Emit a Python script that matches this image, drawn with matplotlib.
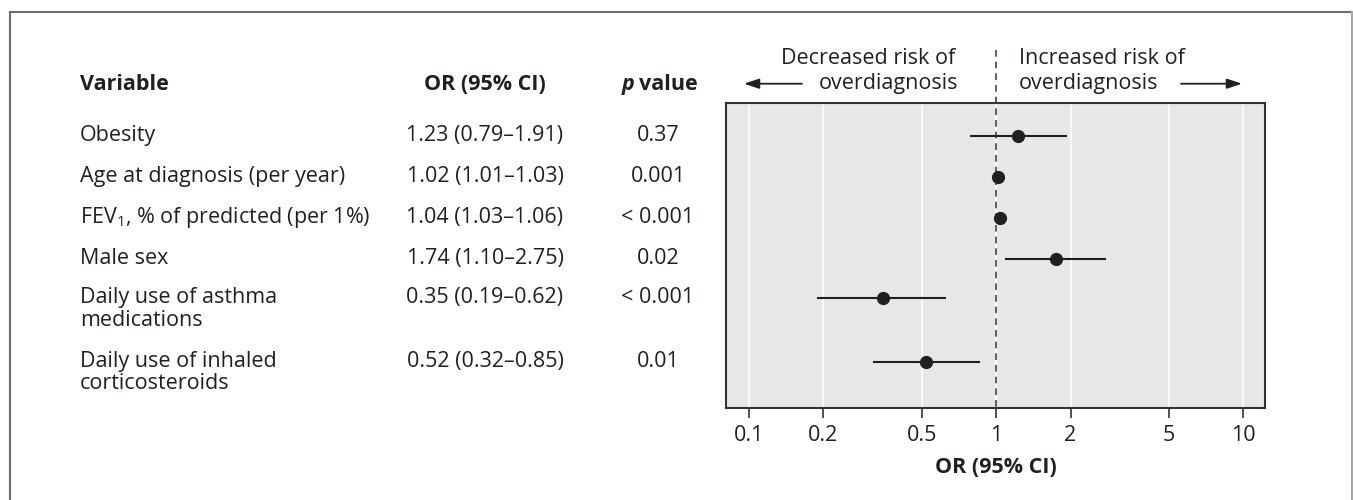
import numpy as np
import matplotlib.pyplot as plt
import matplotlib.transforms as mtransforms
from matplotlib.lines import Line2D

plt.rcParams['font.family'] = ['Open Sans', 'DejaVu Sans']
plt.rcParams['mathtext.fontset'] = 'custom'
plt.rcParams['mathtext.rm'] = 'Open Sans'
plt.rcParams['mathtext.it'] = 'Open Sans:italic'
plt.rcParams['mathtext.bf'] = 'Open Sans:bold'

# data
variables = ['Obesity', 'Age at diagnosis (per year)', 'FEV$_1$, % of predicted (per 1%)',
             'Male sex', 'Daily use of asthma\nmedications',
             'Daily use of inhaled\ncorticosteroids']
odds = [1.23, 1.02, 1.04, 1.74, 0.35, 0.52]
ci_low = [0.79, 1.01, 1.03, 1.10, 0.19, 0.32]
ci_high = [1.91, 1.03, 1.06, 2.75, 0.62, 0.85]
or_text = ['1.23 (0.79\u20131.91)', '1.02 (1.01\u20131.03)', '1.04 (1.03\u20131.06)',
           '1.74 (1.10\u20132.75)', '0.35 (0.19\u20130.62)', '0.52 (0.32\u20130.85)']
p_text = ['0.37', '0.001', '< 0.001', '0.02', '< 0.001', '0.01']
ticks = [0.1, 0.2, 0.5, 1, 2, 5, 10]

txt = '#231f20'
W, H = 1353, 500
rows = [0, 1, 2, 3, 3.95, 5.5]   # vertical slot of each row

fig = plt.figure(figsize=(W / 100, H / 100), dpi=100)
ax = fig.add_axes([726 / W, 1 - 408 / H, (1265 - 726) / W, (408 - 103) / H])
ax.set_facecolor('#e6e7e8')
ax.set_xscale('log')
ax.set_xlim(0.0807, 12.25)
ax.set_ylim(6.63, -0.80)

for t in ticks:
    ax.axvline(t, color='white', lw=1.2, zorder=1)

ax.plot([1, 1], [-2.1, 6.63], color='#444444', lw=1.2, ls=(0, (4, 3)),
        clip_on=False, zorder=2)

for i in range(len(odds)):
    ax.plot([ci_low[i], ci_high[i]], [rows[i], rows[i]], color=txt, lw=1.5, zorder=3)
ax.plot(odds, rows, 'o', color=txt, ms=8.5, zorder=4)

fs = 15.5
ax.set_xticks(ticks)
ax.set_xticklabels(['0.1', '0.2', '0.5', '1', '2', '5', '10'])
ax.xaxis.set_minor_locator(plt.NullLocator())
ax.set_yticks([])
ax.tick_params(axis='x', length=7, width=1.2, color='#333333', labelsize=fs,
               labelcolor=txt, pad=5)
for s in ax.spines.values():
    s.set_color('#333333')
    s.set_linewidth(1.5)
ax.set_xlabel('OR (95% CI)', fontsize=fs, fontweight='bold', color=txt, labelpad=8)

# table on the left
tr = mtransforms.blended_transform_factory(fig.transFigure, ax.transData)
line_step = 0.54
for i, lab in enumerate(variables):
    for j, part in enumerate(lab.split('\n')):
        fig.text(80 / W, rows[i] + j * line_step, part, transform=tr, ha='left',
                 va='center', fontsize=fs, color=txt)
    fig.text(485 / W, rows[i], or_text[i], transform=tr, ha='center', va='center',
             fontsize=fs, color=txt)
    fig.text(658 / W, rows[i], p_text[i], transform=tr, ha='center', va='center',
             fontsize=fs, color=txt)

hy = -1.24
fig.text(80 / W, hy, 'Variable', transform=tr, ha='left', va='center',
         fontsize=fs, fontweight='bold', color=txt)
fig.text(485 / W, hy, 'OR (95% CI)', transform=tr, ha='center', va='center',
         fontsize=fs, fontweight='bold', color=txt)
fig.text(634 / W, hy, 'p', transform=tr, ha='right', va='center',
         fontsize=fs, fontweight='bold', fontstyle='italic', color=txt)
fig.text(639 / W, hy, 'value', transform=tr, ha='left', va='center',
         fontsize=fs, fontweight='bold', color=txt)

# direction labels above the plot
l1, l2 = -1.88, -1.27
fig.text(955 / W, l1, 'Decreased risk of', transform=tr, ha='right', va='center',
         fontsize=fs, color=txt)
fig.text(958 / W, l2, 'overdiagnosis', transform=tr, ha='right', va='center',
         fontsize=fs, color=txt)
fig.text(1019 / W, l1, 'Increased risk of', transform=tr, ha='left', va='center',
         fontsize=fs, color=txt)
fig.text(1019 / W, l2, 'overdiagnosis', transform=tr, ha='left', va='center',
         fontsize=fs, color=txt)
arrow = dict(arrowstyle='-|>,head_length=0.9,head_width=0.3', color=txt, lw=1.3,
             shrinkA=0, shrinkB=0)
ax.annotate('', xy=(744 / W, l2), xytext=(802 / W, l2), xycoords=tr,
            textcoords=tr, arrowprops=arrow)
ax.annotate('', xy=(1242 / W, l2), xytext=(1181 / W, l2), xycoords=tr,
            textcoords=tr, arrowprops=arrow)

# outer frame
fig.add_artist(Line2D([10 / W, 10 / W], [0, 1 - 12 / H], color='#6d6e70', lw=1.5))
fig.add_artist(Line2D([10 / W, 1352 / W], [1 - 12 / H, 1 - 12 / H], color='#6d6e70', lw=1.5))
fig.add_artist(Line2D([1352 / W, 1352 / W], [0, 1 - 12 / H], color='#a7a9ac', lw=1.5))

fig.savefig('out.png', dpi=100)
